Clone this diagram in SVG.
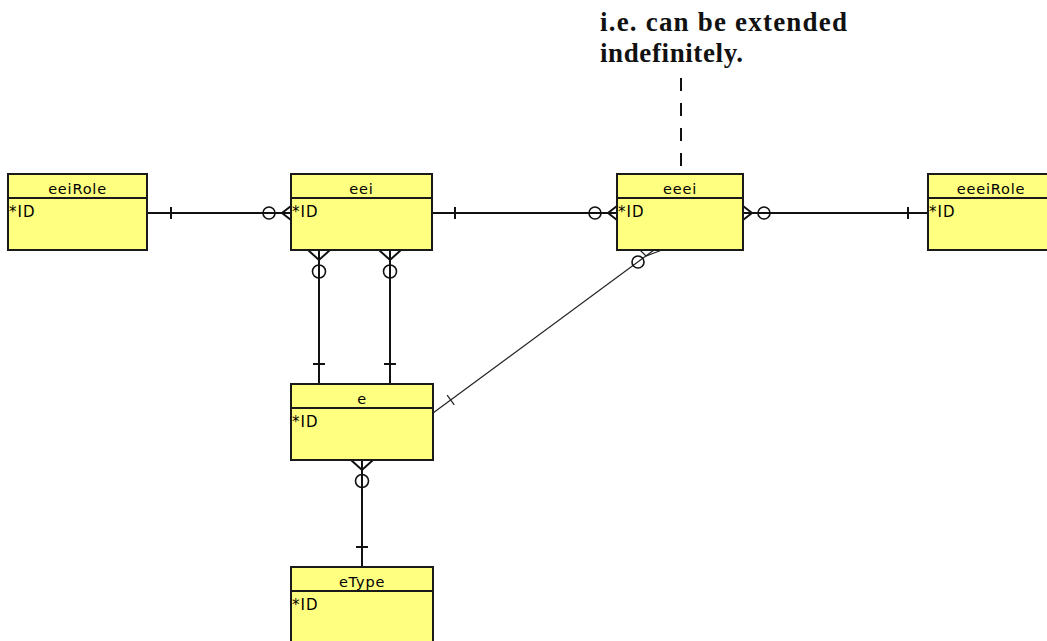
<svg xmlns="http://www.w3.org/2000/svg" width="1047" height="641" viewBox="0 0 1047 641">
  <style>
    .box { fill: #ffff80; stroke: #1a1a1a; stroke-width: 2; }
    .sep { stroke: #1a1a1a; stroke-width: 2; }
    .title { font-family: "DejaVu Sans", Verdana, sans-serif; font-size: 14.5px; letter-spacing: 0.8px; fill: #000; text-anchor: middle; }
    .attr { font-family: "DejaVu Sans", Verdana, sans-serif; font-size: 15px; letter-spacing: 1px; fill: #000; }
    .rel { stroke: #111; stroke-width: 2; fill: none; }
    .thin { stroke: #222; stroke-width: 1.2; fill: none; }
    .opt { fill: none; stroke: #111; stroke-width: 1.6; }
    .note { font-family: "Liberation Serif", "Times New Roman", serif; font-weight: bold; font-size: 27px; fill: #111; }
  </style>

  <rect width="1047" height="641" fill="#ffffff"/>

  <!-- relationship lines -->
  <g id="connectors">
    <!-- eeiRole 1 : 0..n eei -->
    <line class="rel" x1="147" y1="213" x2="291" y2="213"/>
    <line class="rel" x1="171" y1="207" x2="171" y2="219"/>
    <circle class="opt" cx="269" cy="213" r="6"/>
    <polyline class="rel" points="291,206 282,213 291,220"/>

    <!-- eei 1 : 0..n eeei -->
    <line class="rel" x1="432" y1="213" x2="617" y2="213"/>
    <line class="rel" x1="455" y1="207" x2="455" y2="219"/>
    <circle class="opt" cx="595" cy="213" r="6"/>
    <polyline class="rel" points="617,206 608,213 617,220"/>

    <!-- eeei 0..n : 1 eeeiRole -->
    <line class="rel" x1="743" y1="213" x2="928" y2="213"/>
    <polyline class="rel" points="743,206 752,213 743,220"/>
    <circle class="opt" cx="764" cy="213" r="6"/>
    <line class="rel" x1="908" y1="207" x2="908" y2="219"/>

    <!-- eei 0..n : 1 e (first) -->
    <line class="rel" x1="319" y1="250" x2="319" y2="384"/>
    <polyline class="rel" points="308,250 319,260 330,250"/>
    <circle class="opt" cx="319" cy="271.5" r="6.5"/>
    <line class="rel" x1="313" y1="364" x2="325" y2="364"/>

    <!-- eei 0..n : 1 e (second) -->
    <line class="rel" x1="390" y1="250" x2="390" y2="384"/>
    <polyline class="rel" points="379,250 390,260 401,250"/>
    <circle class="opt" cx="390" cy="271.5" r="6.5"/>
    <line class="rel" x1="384" y1="364" x2="396" y2="364"/>

    <!-- e 0..n : 1 eType -->
    <line class="rel" x1="362" y1="460" x2="362" y2="567"/>
    <polyline class="rel" points="351,460 362,470 373,460"/>
    <circle class="opt" cx="362" cy="481" r="6.5"/>
    <line class="rel" x1="356" y1="547" x2="368" y2="547"/>

    <!-- e 1 : 0..n eeei -->
    <line class="thin" x1="433" y1="413" x2="654" y2="250"/>
    <line class="thin" x1="447.1" y1="395.2" x2="454.3" y2="404.8"/>
    <circle class="opt" cx="638" cy="262" r="6" stroke-width="1.2"/>
    <polyline class="thin" points="640,250 646,256 662,250"/>
  </g>

  <!-- note -->
  <g id="note">
    <text class="note" x="600" y="31" textLength="247" lengthAdjust="spacing">i.e. can be extended</text>
    <text class="note" x="600" y="62" textLength="143" lengthAdjust="spacing">indefinitely.</text>
    <line x1="681" y1="78" x2="681" y2="174" stroke="#111" stroke-width="2" stroke-dasharray="13 12"/>
  </g>

  <!-- entities -->
  <g id="eeiRole">
    <rect class="box" x="8" y="174" width="139" height="76"/>
    <line class="sep" x1="8" y1="198" x2="147" y2="198"/>
    <text class="title" x="77.5" y="194">eeiRole</text>
    <text class="attr" x="9" y="217">*ID</text>
  </g>

  <g id="eei">
    <rect class="box" x="291" y="174" width="141" height="76"/>
    <line class="sep" x1="291" y1="198" x2="432" y2="198"/>
    <text class="title" x="361.5" y="194">eei</text>
    <text class="attr" x="292" y="217">*ID</text>
  </g>

  <g id="eeei">
    <rect class="box" x="617" y="174" width="126" height="76"/>
    <line class="sep" x1="617" y1="198" x2="743" y2="198"/>
    <text class="title" x="680" y="194">eeei</text>
    <text class="attr" x="618" y="217">*ID</text>
  </g>

  <g id="eeeiRole">
    <rect class="box" x="928" y="174" width="126" height="76"/>
    <line class="sep" x1="928" y1="198" x2="1054" y2="198"/>
    <text class="title" x="991" y="194">eeeiRole</text>
    <text class="attr" x="929" y="217">*ID</text>
  </g>

  <g id="e">
    <rect class="box" x="291" y="384" width="142" height="76"/>
    <line class="sep" x1="291" y1="408" x2="433" y2="408"/>
    <text class="title" x="362" y="404">e</text>
    <text class="attr" x="292" y="427">*ID</text>
  </g>

  <g id="eType">
    <rect class="box" x="291" y="567" width="142" height="90"/>
    <line class="sep" x1="291" y1="591" x2="433" y2="591"/>
    <text class="title" x="362" y="587">eType</text>
    <text class="attr" x="292" y="610">*ID</text>
  </g>
</svg>
